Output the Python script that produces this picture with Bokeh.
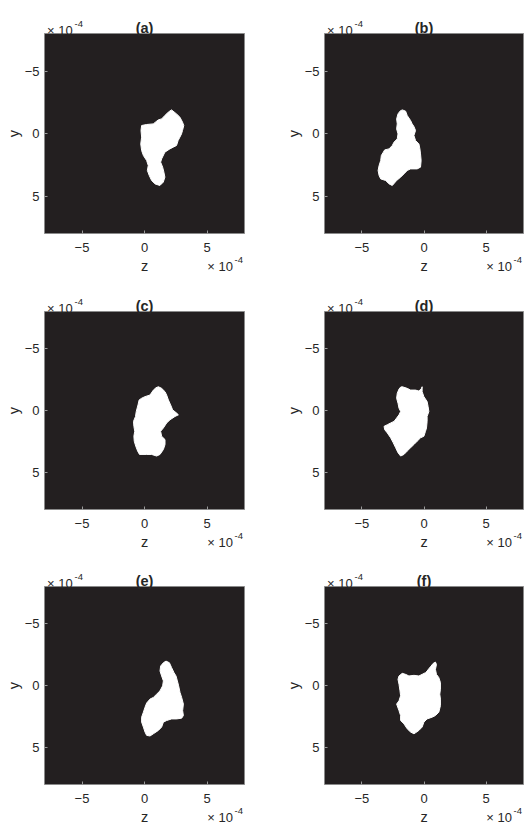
import math
from bokeh.plotting import figure
from bokeh.layouts import column, row
from bokeh.models import Range1d, Label, FixedTicker
from bokeh.embed import file_html
from bokeh.resources import INLINE

# ---------------- data (units of 1e-4) ----------------
panel_tags = ["(a)", "(b)", "(c)", "(d)", "(e)", "(f)"]
axis_ticks = [-5, 0, 5]
axis_limit = 8
x_label = "z"
y_label = "y"
exp_base = "\u00d7 10"
exp_power = "-4"

blob_a_z = [2.16, 2.56, 2.83, 3.04, 3.14, 3.04, 2.96, 2.83, 2.69, 2.56, 2.30, 2.03, 1.63, 1.37, 1.29, 1.45, 1.55, 1.63, 1.50,
            1.23, 0.84, 0.57, 0.38, 0.23, 0.30, 0.17, -0.09, -0.23, -0.30, -0.23, -0.28, -0.23, 0.17, 0.70, 1.10, 1.37, 1.63, 1.90]
blob_a_y = [-1.89, -1.57, -1.31, -0.91, -0.64, -0.24, 0.03, 0.29, 0.56, 0.96, 1.09, 1.23, 1.49, 2.03, 2.29, 2.69, 3.09, 3.49, 3.89,
            4.16, 4.03, 3.76, 3.36, 2.96, 2.56, 2.16, 1.76, 1.36, 0.83, 0.29, -0.24, -0.64, -0.72, -0.77, -1.09, -1.17, -1.44, -1.71]

blob_b_z = [-1.75, -1.48, -1.35, -1.08, -0.95, -0.81, -0.68, -0.81, -0.68, -0.41, -0.33, -0.28, -0.23, -0.28, -0.55, -1.08, -1.35,
            -1.61, -1.88, -2.20, -2.55, -2.81, -3.08, -3.48, -3.61, -3.69, -3.61, -3.48, -3.43, -3.27, -3.16, -2.81, -2.55, -2.41,
            -2.15, -2.09, -2.20, -2.15, -2.20, -2.09, -1.93]
blob_b_y = [-1.89, -1.79, -1.44, -1.04, -0.77, -0.56, -0.24, 0.16, 0.56, 0.83, 1.23, 1.63, 2.16, 2.69, 2.83, 2.83, 2.96,
            3.23, 3.49, 3.76, 4.16, 4.03, 3.76, 3.63, 3.36, 2.96, 2.56, 2.16, 1.76, 1.49, 1.31, 1.23, 0.96, 0.69,
            0.43, 0.03, -0.37, -0.77, -1.17, -1.57, -1.79]

blob_c_z = [1.11, 1.37, 1.64, 1.77, 1.91, 2.09, 2.25, 2.57, 2.71, 2.44, 2.04, 1.77, 1.51, 1.29, 1.37, 1.64, 1.64, 1.51, 1.24,
            0.97, 0.57, 0.17, -0.40, -0.55, -0.70, -0.82, -0.85, -0.78, -0.85, -0.88, -0.72, -0.66, -0.52, -0.43, -0.23, 0.04,
            0.44, 0.71, 0.92]
blob_c_y = [-1.92, -1.79, -1.52, -1.25, -0.85, -0.45, -0.05, 0.21, 0.35, 0.48, 0.75, 1.01, 1.41, 1.68, 2.08, 2.35, 2.75, 3.15, 3.55,
            3.68, 3.55, 3.55, 3.55, 3.28, 2.88, 2.48, 2.08, 1.68, 1.28, 0.88, 0.48, 0.08, -0.45, -0.85, -0.99, -1.12,
            -1.25, -1.65, -1.84]

blob_d_z = [-1.75, -1.35, -1.08, -0.68, -0.41, -0.20, -0.15, -0.15, -0.01, 0.25, 0.33, 0.39, 0.25, 0.25, 0.20, 0.12, -0.01,
            -0.28, -0.55, -0.81, -1.08, -1.35, -1.61, -1.88, -2.09, -2.28, -2.47, -2.68, -2.95, -3.16, -3.21, -2.95, -2.68,
            -2.41, -2.20, -2.01, -1.88, -2.01, -2.09, -2.20, -2.15, -2.01, -1.88]
blob_d_y = [-1.92, -1.79, -1.65, -1.65, -1.57, -1.79, -1.92, -1.52, -1.12, -0.72, -0.32, 0.08, 0.48, 0.88, 1.41, 1.68, 2.08,
            2.21, 2.48, 2.75, 3.01, 3.28, 3.55, 3.68, 3.41, 3.01, 2.61, 2.21, 1.81, 1.55, 1.28, 1.15, 1.01,
            0.88, 0.61, 0.35, 0.08, -0.19, -0.59, -0.99, -1.39, -1.73, -1.89]

blob_e_z = [1.72, 1.99, 2.17, 2.36, 2.52, 2.63, 2.73, 2.84, 2.97, 3.11, 3.05, 3.11, 2.97, 2.57, 2.17, 1.77, 1.51, 1.37, 1.11,
            0.71, 0.44, 0.17, 0.04, -0.09, -0.23, -0.23, -0.09, 0.04, 0.17, 0.44, 0.71, 0.97, 1.24, 1.45, 1.51, 1.37,
            1.24, 1.29, 1.51]
blob_e_y = [-1.97, -1.84, -1.44, -1.04, -0.77, -0.37, 0.03, 0.56, 0.96, 1.50, 2.03, 2.43, 2.64, 2.70, 2.70, 2.83, 2.96, 3.36, 3.63,
            3.90, 4.08, 4.03, 3.76, 3.36, 2.96, 2.56, 2.16, 1.76, 1.42, 1.10, 0.96, 0.70, 0.43, 0.03, -0.37, -0.77,
            -1.17, -1.57, -1.84]

blob_f_z = [0.92, 1.00, 0.92, 1.00, 1.19, 1.32, 1.32, 1.27, 1.32, 1.32, 1.19, 0.92, 0.65, 0.25, -0.01, -0.15, -0.41, -0.68,
            -0.81, -1.08, -1.35, -1.61, -1.88, -1.88, -2.01, -2.20, -2.01, -1.88, -1.93, -2.01, -2.09, -2.01, -1.75, -1.48,
            -1.21, -0.81, -0.41, -0.15, 0.12, 0.25, 0.39, 0.57, 0.73]
blob_f_y = [-1.89, -1.70, -1.30, -0.90, -0.64, -0.24, 0.30, 0.70, 1.10, 1.63, 2.16, 2.43, 2.56, 2.70, 2.96, 3.36, 3.63, 3.82,
            3.90, 3.76, 3.50, 3.10, 2.83, 2.43, 2.03, 1.50, 1.23, 0.83, 0.43, -0.10, -0.50, -0.77, -0.98, -0.90,
            -0.77, -0.82, -0.77, -0.90, -1.04, -1.17, -1.36, -1.57, -1.78]

blobs_z = [blob_a_z, blob_b_z, blob_c_z, blob_d_z, blob_e_z, blob_f_z]
blobs_y = [blob_a_y, blob_b_y, blob_c_y, blob_d_y, blob_e_y, blob_f_y]

# ---------------- style / layout ----------------
FONT = "Liberation Sans"
BG = "#231f20"
EDGE = "#8a8a8a"
TXT = "#262626"
col_w = [260, 264]
col_left = [44, 64]
col_right = [16, 1]
row_h = [280, 275, 276]
row_top = [33, 29, 29]
row_bottom = [47, 46, 47]


def make_panel(i):
    r, c = divmod(i, 2)
    p = figure(width=col_w[c], height=row_h[r],
               x_range=Range1d(-axis_limit, axis_limit), y_range=Range1d(axis_limit, -axis_limit),
               output_backend="svg", toolbar_location=None,
               min_border_left=col_left[c], min_border_right=col_right[c],
               min_border_top=row_top[r], min_border_bottom=row_bottom[r],
               background_fill_color=BG, border_fill_color="white",
               outline_line_color=EDGE, outline_line_width=1)
    p.grid.visible = False
    for ax in (p.xaxis[0], p.yaxis[0]):
        ax.ticker = FixedTicker(ticks=axis_ticks)
        ax.minor_tick_line_color = None
        ax.major_tick_in = 3
        ax.major_tick_out = 0
        ax.major_tick_line_color = "#9a9a9a"
        ax.axis_line_color = None
        ax.major_label_text_font = FONT
        ax.major_label_text_font_size = "13px"
        ax.major_label_text_color = TXT
    p.xaxis[0].major_label_standoff = 9
    p.yaxis[0].major_label_standoff = 5

    p.patch(blobs_z[i], blobs_y[i], fill_color="white", line_color="white", line_width=1)

    lab = dict(text_font=FONT, text_color=TXT)
    title = Label(x=0, y=-axis_limit, text=panel_tags[i], text_align="center", text_baseline="alphabetic",
                  y_offset=6, text_font_size="14.5px", text_font_style="bold", **lab)
    top_base = Label(x=-axis_limit, y=-axis_limit, text=exp_base, text_align="left", text_baseline="alphabetic",
                     x_offset=2.5, y_offset=3, text_font_size="13px", **lab)
    top_pow = Label(x=-axis_limit, y=-axis_limit, text=exp_power, text_align="left", text_baseline="alphabetic",
                    x_offset=30, y_offset=9.5, text_font_size="9.5px", **lab)
    bot_pow = Label(x=axis_limit, y=axis_limit, text=exp_power, text_align="right", text_baseline="alphabetic",
                    x_offset=-1.5, y_offset=-26.5, text_font_size="9.5px", **lab)
    bot_base = Label(x=axis_limit, y=axis_limit, text=exp_base, text_align="right", text_baseline="alphabetic",
                     x_offset=-11.5, y_offset=-32.5, text_font_size="13px", **lab)
    zlab = Label(x=0, y=axis_limit, text=x_label, text_align="center", text_baseline="alphabetic",
                 y_offset=-32.5, text_font_size="14.5px", **lab)
    ylab = Label(x=-axis_limit, y=0, text=y_label, text_align="center", text_baseline="middle",
                 angle=math.pi / 2, x_offset=-31, text_font_size="14.5px", **lab)

    # labels live in side panels (not clipped); their positions come from the data scales
    p.add_layout(title, "above")
    p.add_layout(top_base, "above")
    p.add_layout(bot_base, "below")
    p.add_layout(ylab, "below")
    p.add_layout(zlab, "left")
    p.add_layout(top_pow, "left")
    if c == 0:
        p.add_layout(bot_pow, "right")
    else:
        p.add_layout(bot_pow, "left")
    return p


panels = [make_panel(i) for i in range(6)]
layout = column(row(panels[0], panels[1]), row(panels[2], panels[3]), row(panels[4], panels[5]))

open("out.html", "w").write(file_html(layout, INLINE))
